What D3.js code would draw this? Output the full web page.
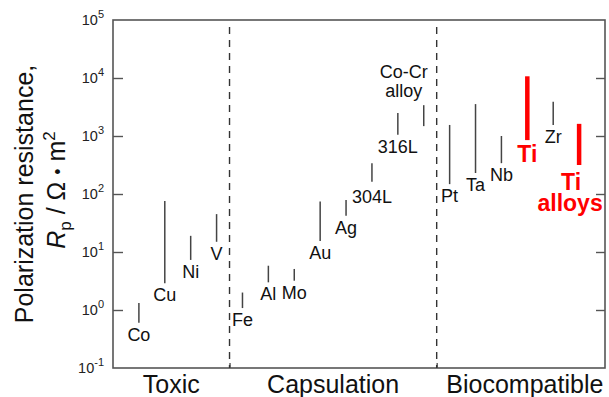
<!DOCTYPE html>
<html>
<head>
<meta charset="utf-8">
<script src="https://cdn.jsdelivr.net/npm/d3@7"></script>
<style>
  html, body { margin: 0; padding: 0; background: #fff; }
  svg { display: block; font-family: "Liberation Sans", Arial, sans-serif; }
  .metal-lbl { font-size: 18px; fill: #111; }
  .hi-lbl { font-size: 23px; font-weight: 700; fill: #f00; }
  .grp-lbl { font-size: 25px; fill: #111; }
  .tick-lbl { font-size: 14.5px; fill: #222; }
  .axis-title { font-size: 25px; fill: #111; }
</style>
</head>
<body>
<svg id="chart" width="609" height="397"></svg>
<script>
/* Polarization resistance Rp of metals, grouped by biological response. */

const GROUPS = ["Toxic", "Capsulation", "Biocompatible"];
const METALS = ["Co", "Cu", "Ni", "V", "Fe", "Al", "Mo", "Au", "Ag", "304L", "316L", "Co-Cr alloy",
                "Pt", "Ta", "Nb", "Ti", "Zr", "Ti alloys"];
const GROUP_OF = [0, 0, 0, 0, 1, 1, 1, 1, 1, 1, 1, 1, 2, 2, 2, 2, 2, 2];
// Rp range, Ω·m²
const RP_LOW  = [0.6, 2.9, 7.3, 15, 1.08, 3.0, 3.2, 15.5, 42, 162, 1050, 1480, 148, 230, 340, 850, 1550, 316];
const RP_HIGH = [1.32, 76, 19, 45, 2.0, 5.8, 5.1, 74, 79, 340, 2500, 3400, 1550, 3550, 1000, 10700, 3900, 1620];
const HIGHLIGHT = ["Ti", "Ti alloys"];
const Y_EXP = [-1, 0, 1, 2, 3, 4, 5];

const W = 609, H = 397;
const m = { t: 20, r: 4, b: 29, l: 113 };
const svg = d3.select("#chart");

const x = d3.scaleLinear().domain([0, METALS.length + 1]).range([m.l, W - m.r]);
const y = d3.scaleLog().domain([Math.pow(10, Y_EXP[0]), Math.pow(10, Y_EXP[Y_EXP.length - 1])]).range([H - m.b, m.t]);

// group boundaries (between last metal of one group and first of the next)
const counts = GROUPS.map((g, i) => GROUP_OF.filter(v => v === i).length);
const cum = d3.cumsum(counts);
const bounds = cum.slice(0, -1).map(c => c + 0.5);
const edges = [0, ...bounds, METALS.length + 1];

// frame
svg.append("rect").attr("x", x(0)).attr("y", y.range()[1])
  .attr("width", x.range()[1] - x(0)).attr("height", y.range()[0] - y.range()[1])
  .attr("fill", "none").attr("stroke", "#555").attr("stroke-width", 1.6);

// inward ticks, left + right + bottom
const inner = Y_EXP.slice(1, -1).map(e => Math.pow(10, e));
const gl = svg.append("g").attr("transform", `translate(${x(0)},0)`)
  .call(d3.axisRight(y).tickValues(inner).tickSize(10).tickFormat(""));
const gr = svg.append("g").attr("transform", `translate(${x.range()[1]},0)`)
  .call(d3.axisLeft(y).tickValues(inner).tickSize(9).tickFormat(""));
const gb = svg.append("g").attr("transform", `translate(0,${y.range()[0]})`)
  .call(d3.axisTop(x).tickValues(bounds).tickSize(5).tickFormat(""));
[gl, gr, gb].forEach(g => {
  g.select(".domain").remove();
  g.selectAll("line").attr("stroke", "#555").attr("stroke-width", 1.4);
});

// dashed group dividers
svg.selectAll("line.div").data(bounds).join("line").attr("class", "div")
  .attr("x1", d => x(d)).attr("x2", d => x(d)).attr("y1", y.range()[1] + 7).attr("y2", y.range()[0])
  .attr("stroke", "#333").attr("stroke-width", 1.4).attr("stroke-dasharray", "7,6");

// y tick labels 10^n
const tl = svg.selectAll("text.tick-lbl").data(Y_EXP).join("text").attr("class", "tick-lbl")
  .attr("x", x(0) - 9).attr("y", e => y(Math.pow(10, e)) + 5).attr("text-anchor", "end");
tl.append("tspan").text("10");
tl.append("tspan").attr("dy", -7).style("font-size", "11px").text(e => e);

// axis title
svg.append("text").attr("class", "axis-title").attr("text-anchor", "middle")
  .attr("transform", `translate(33,${(y.range()[0] + y.range()[1]) / 2}) rotate(-90)`)
  .text("Polarization resistance,");
const t2 = svg.append("text").attr("class", "axis-title").attr("text-anchor", "middle")
  .attr("transform", `translate(65,${(y.range()[0] + y.range()[1]) / 2 - 4}) rotate(-90)`);
t2.append("tspan").style("font-style", "italic").text("R");
t2.append("tspan").attr("dy", 6).style("font-size", "17px").text("p");
t2.append("tspan").attr("dy", -6).text(" / Ω ");
t2.append("tspan").style("font-size", "18px").attr("dy", -1).text("•");
t2.append("tspan").attr("dy", 1).text(" m");
t2.append("tspan").attr("dy", -10).style("font-size", "17px").text("2");

// group labels
svg.selectAll("text.grp-lbl").data(GROUPS).join("text").attr("class", "grp-lbl")
  .attr("x", (d, i) => x((edges[i] + edges[i + 1]) / 2) + (i === 2 ? 4 : 0))
  .attr("y", H - 4).attr("text-anchor", "middle").text(d => d);

// Rp ranges
const rows = METALS.map((name, i) => ({ name, i: i + 1, lo: RP_LOW[i], hi: RP_HIGH[i], hi_: HIGHLIGHT.includes(name) }));
svg.selectAll("line.rp").data(rows).join("line").attr("class", "rp")
  .attr("x1", d => x(d.i)).attr("x2", d => x(d.i))
  .attr("y1", d => y(d.lo)).attr("y2", d => y(d.hi))
  .attr("stroke", d => d.hi_ ? "#f00" : "#444")
  .attr("stroke-width", d => d.hi_ ? 4.5 : 1.5);

// labels
rows.forEach(d => {
  const cx = x(d.i);
  if (d.name === "Co-Cr alloy") {
    const top = y(d.hi);
    svg.append("text").attr("class", "metal-lbl").attr("x", cx - 20).attr("y", top - 27).attr("text-anchor", "middle").text("Co-Cr");
    svg.append("text").attr("class", "metal-lbl").attr("x", cx - 20).attr("y", top - 8).attr("text-anchor", "middle").text("alloy");
  } else if (d.name === "Ti alloys") {
    const bot = y(d.lo);
    svg.append("text").attr("class", "hi-lbl").attr("x", cx - 8).attr("y", bot + 25).attr("text-anchor", "middle").text("Ti");
    svg.append("text").attr("class", "hi-lbl").attr("x", cx - 9).attr("y", bot + 46).attr("text-anchor", "middle").text("alloys");
  } else {
    svg.append("text").attr("class", d.hi_ ? "hi-lbl" : "metal-lbl")
      .attr("x", cx).attr("y", y(d.lo) + (d.hi_ ? 22 : (d.name === "304L" ? 21 : 18)))
      .attr("text-anchor", "middle").text(d.name);
  }
});
</script>
</body>
</html>
